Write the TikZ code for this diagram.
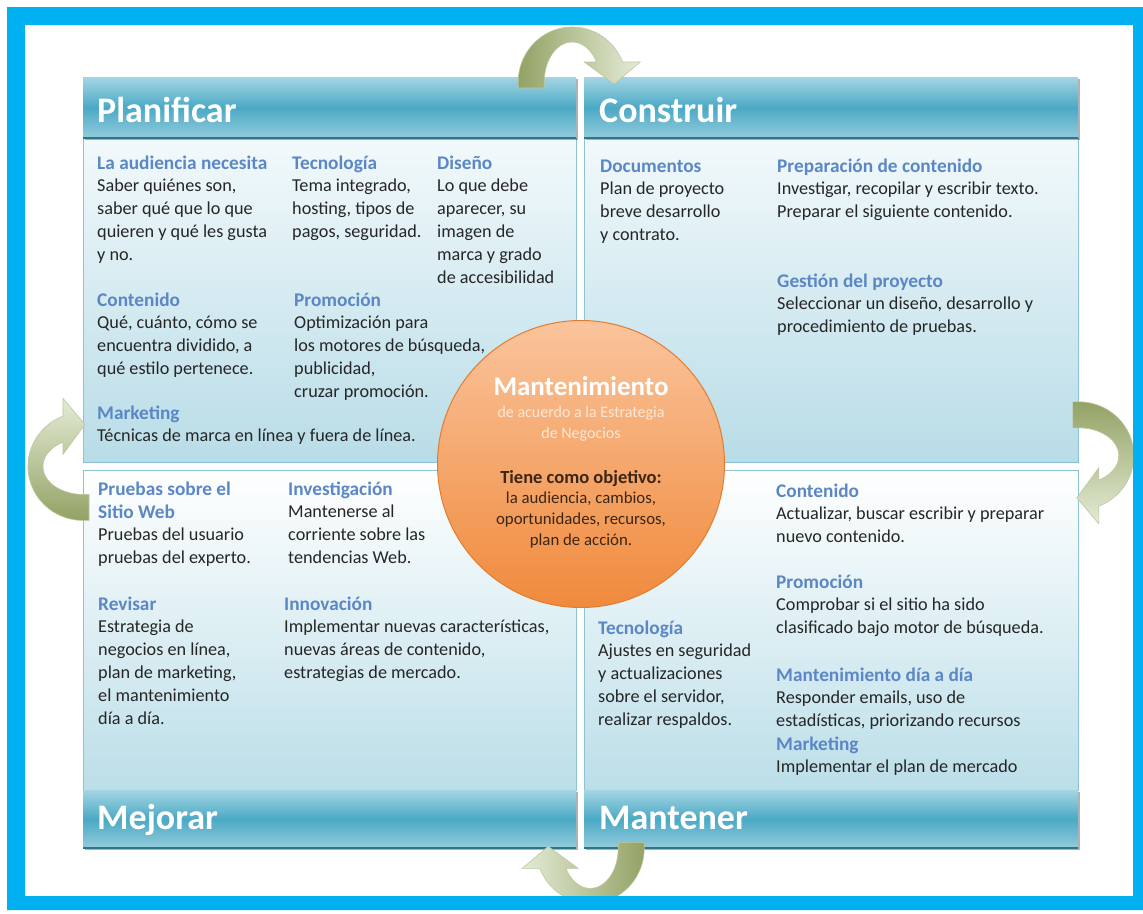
\documentclass[tikz,border=0pt]{standalone}
\usepackage{fontspec}
\setmainfont{Carlito}
\usetikzlibrary{calc,shadows}
\definecolor{cyanb}{HTML}{00B0F0}
\definecolor{hdtop}{HTML}{A3D5E3}
\definecolor{hdmid}{HTML}{4BA9C5}
\definecolor{hdbot}{HTML}{93CCDC}
\definecolor{hdline}{HTML}{2F7489}
\definecolor{bodytop}{HTML}{F2F9FB}
\definecolor{bodybot}{HTML}{B8DCE7}
\definecolor{lowtop}{HTML}{FFFFFF}
\definecolor{lowbot}{HTML}{BBDEE8}
\definecolor{panelline}{HTML}{8CC3D4}
\definecolor{headc}{HTML}{5B87C6}
\definecolor{bodyc}{HTML}{262626}
\definecolor{oltail}{HTML}{93A265}
\definecolor{olhead}{HTML}{E4ECD6}
\definecolor{olline}{HTML}{BCC89E}
\definecolor{orlight}{HTML}{FAC49C}
\definecolor{ordark}{HTML}{F08A3C}
\definecolor{orline}{HTML}{E27C30}
\definecolor{objc}{HTML}{3B2616}
\definecolor{subc}{HTML}{FDE7D6}
\tikzset{
  hdr/.style={anchor=north west, inner sep=0pt, minimum width=493pt, minimum height=61pt,
    top color=hdtop, bottom color=hdbot, middle color=hdmid, draw=none,
    drop shadow={shadow xshift=2pt, shadow yshift=-2pt, fill=black, opacity=0.3}},
  bodytopp/.style={anchor=north west, inner sep=0pt, minimum width=493pt, minimum height=324pt,
    top color=bodytop, bottom color=bodybot, draw=panelline, line width=0.8pt},
  bodylowp/.style={anchor=north west, inner sep=0pt, minimum width=493pt, minimum height=320pt,
    top color=lowtop, bottom color=lowbot, draw=panelline, line width=0.8pt},
  hdrline/.style={draw=hdline, line width=2pt},
  hdrtext/.style={anchor=base west, inner sep=0pt, text=white, font=\fontsize{36}{40}\selectfont\bfseries},
  hd/.style={anchor=base west, inner sep=0pt, text=headc, font=\fontsize{19.3}{22}\selectfont\bfseries},
  bd/.style={anchor=base west, inner sep=0pt, text=bodyc, font=\fontsize{18.2}{22}\selectfont},
  hubtitle/.style={anchor=base, inner sep=0pt, text=white, font=\fontsize{27}{30}\selectfont\bfseries},
  hubsub/.style={anchor=base, inner sep=0pt, text=subc, font=\fontsize{16}{18}\selectfont},
  hubobj/.style={anchor=base, inner sep=0pt, text=objc, font=\fontsize{18.5}{21}\selectfont\bfseries},
  hubline/.style={anchor=base, inner sep=0pt, text=objc, font=\fontsize{16.8}{19}\selectfont},
  bent/.style={draw=olline, line width=0.6pt},
}
\newcommand\tblk[5]{%
  \node[hd] (#1) at (#2,#3) {#4};
  \foreach \lin [count=\ii] in {#5} {\node[bd] (#1-\ii) at (#2,{#3+\ii*22.8}) {\lin};}
}
\newcommand\bentarrow{(-54,6) -- plot[domain=180:338.7, samples=50] ({54*cos(\x)},{55*sin(\x)})
  -- (68,-20) -- (42,2) -- (12,-20)
  -- plot[domain=330:180, samples=50] ({28*cos(\x)},{40*sin(\x)}) -- (-28,6) -- cycle}
\begin{document}
\begin{tikzpicture}[x=1pt, y=-1pt]
\useasboundingbox (0,0) rectangle (1143,913);
\fill[white] (0,0) rectangle (1143,913);

% panel bodies
\node[bodytopp] (planB) at (83,138) {};
\node[bodytopp, minimum width=494pt] (consB) at (584,138) {};
\node[bodylowp] (mejB) at (83,470) {};
\node[bodylowp, minimum width=494pt] (manB) at (584,470) {};

% headers
\node[hdr] (planH) at (83,77) {};
\node[hdr, minimum width=494pt] (consH) at (584,77) {};
\node[hdr, minimum height=58pt] (mejH) at (83,790) {};
\node[hdr, minimum height=58pt, minimum width=494pt] (manH) at (584,790) {};
\foreach \h in {planH, consH, mejH, manH} {\draw[hdrline] (\h.south west) -- (\h.south east);}

\node[hdrtext] (planT) at (97,122) {Planificar};
\node[hdrtext] (consT) at (599,122) {Construir};
\node[hdrtext] (mejT) at (97,829) {Mejorar};
\node[hdrtext] (manT) at (599,829) {Mantener};

% Planificar
\tblk{aud}{97}{169}{La audiencia necesita}{{Saber quiénes son,},{saber qué que lo que},{quieren y qué les gusta},{y no.}}
\tblk{tec}{292}{169}{Tecnología}{{Tema integrado,},{hosting, tipos de},{pagos, seguridad.}}
\tblk{dis}{437}{169}{Diseño}{{Lo que debe},{aparecer, su},{imagen de},{marca y grado},{de accesibilidad}}
\tblk{con}{97}{306}{Contenido}{{Qué, cuánto, cómo se},{encuentra dividido, a},{qué estilo pertenece.}}
\tblk{pro}{294}{306}{Promoción}{{Optimización para},{los motores de búsqueda,},{publicidad,},{cruzar promoción.}}
\tblk{mkt}{97}{419}{Marketing}{{Técnicas de marca en línea y fuera de línea.}}

% Construir
\tblk{doc}{600}{172}{Documentos}{{Plan de proyecto},{breve desarrollo},{y contrato.}}
\tblk{pre}{777}{172}{Preparación de contenido}{{Investigar, recopilar y escribir texto.},{Preparar el siguiente contenido.}}
\tblk{ges}{777}{287}{Gestión del proyecto}{{Seleccionar un diseño, desarrollo y},{procedimiento de pruebas.}}

% Mejorar
\node[hd] (pru) at (98,495) {Pruebas sobre el};
\tblk{pruw}{98}{518}{Sitio Web}{{Pruebas del usuario},{pruebas del experto.}}
\tblk{inv}{288}{495}{Investigación}{{Mantenerse al},{corriente sobre las},{tendencias Web.}}
\tblk{rev}{98}{610}{Revisar}{{Estrategia de},{negocios en línea,},{plan de marketing,},{el mantenimiento},{día a día.}}
\tblk{inn}{284}{610}{Innovación}{{Implementar nuevas características,},{nuevas áreas de contenido,},{estrategias de mercado.}}

% Mantener
\tblk{mcon}{776}{497}{Contenido}{{Actualizar, buscar escribir y preparar},{nuevo contenido.}}
\tblk{mpro}{776}{588}{Promoción}{{Comprobar si el sitio ha sido},{clasificado bajo motor de búsqueda.}}
\tblk{mtec}{598}{634}{Tecnología}{{Ajustes en seguridad},{y actualizaciones},{sobre el servidor,},{realizar respaldos.}}
\tblk{mdia}{776}{681}{Mantenimiento día a día}{{Responder emails, uso de},{estadísticas, priorizando recursos}}
\tblk{mmkt}{776}{750}{Marketing}{{Implementar el plan de mercado}}

% hub
\node[circle, minimum size=287pt, inner sep=0pt, top color=orlight, bottom color=ordark,
      draw=orline, line width=1pt] (hub) at (581,464) {};
\node[hubtitle] (hubT) at (581,395) {Mantenimiento};
\node[hubsub] (hubS1) at (581,417) {de acuerdo a la Estrategia};
\node[hubsub] (hubS2) at (581,438) {de Negocios};
\node[hubobj] (hubO) at (581,483) {Tiene como objetivo:};
\node[hubline] (hubL1) at (581,503) {la audiencia, cambios,};
\node[hubline] (hubL2) at (581,524) {oportunidades, recursos,};
\node[hubline] (hubL3) at (581,545) {plan de acción.};

% cycle arrows
\coordinate (arrTop) at ($(planH.north east)!0.5!(consH.north west)+(-8,5)$);
\coordinate (arrRight) at ($(consB.south east)+(0,-7)$);
\coordinate (arrBot) at ($(mejH.south east)!0.5!(manH.south west)+(10,0)$);
\coordinate (arrLeft) at ($(planB.south west)!0.5!(mejB.north west)$);
\begin{scope}[shift={(arrTop)}]
  \shade[bent, left color=oltail, right color=olhead] \bentarrow;
\end{scope}
\begin{scope}[shift={(arrRight)}, rotate=-90]
  \shade[bent, top color=oltail, bottom color=olhead] \bentarrow;
\end{scope}
\begin{scope}[shift={(arrBot)}, rotate=180]
  \shade[bent, left color=olhead, right color=oltail] \bentarrow;
\end{scope}
\begin{scope}[shift={(arrLeft)}, rotate=90]
  \shade[bent, top color=olhead, bottom color=oltail] \bentarrow;
\end{scope}

% frame
\fill[cyanb, even odd rule] (7,7) rectangle (1143,910) (25,25) rectangle (1133,896);
\end{tikzpicture}
\end{document}
